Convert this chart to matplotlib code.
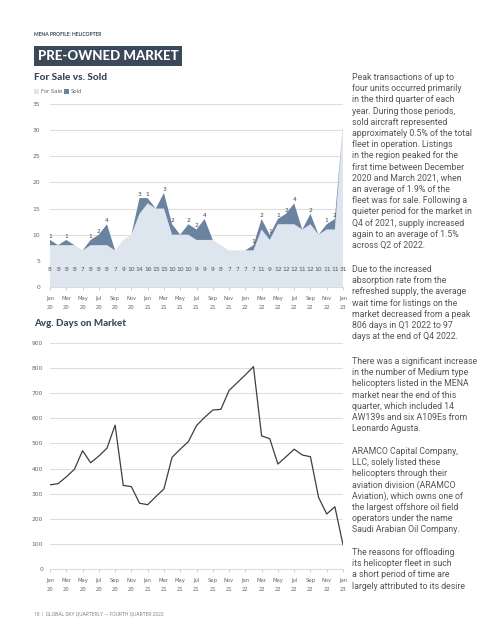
import numpy as np
import matplotlib.pyplot as plt
from matplotlib.patches import Rectangle

# monthly data, Jan 2020 .. Jan 2023
months = np.arange(37)
for_sale = [8, 8, 8, 8, 7, 8, 8, 8, 7, 9, 10, 14, 16, 15, 15, 10, 10, 10, 9, 9,
            9, 8, 7, 7, 7, 7, 11, 9, 12, 12, 12, 11, 12, 10, 11, 11, 31]
sold = [1, 0, 1, 0, 0, 1, 2, 4, 0, 0, 0, 3, 1, 0, 3, 2, 0, 2, 2, 4,
        0, 0, 0, 0, 0, 1, 2, 1, 1, 2, 4, 0, 2, 0, 1, 2, 0]
avg_days = [335, 340, 367, 397, 471, 423, 450, 481, 573, 333, 328, 262, 256, 288,
            319, 445, 477, 507, 571, 604, 633, 636, 711, 742, 773, 806, 530, 519,
            418, 447, 477, 454, 447, 285, 219, 248, 97]
tick_labels = ['Jan\n20', 'Mar\n20', 'May\n20', 'Jul\n20', 'Sep\n20', 'Nov\n20',
               'Jan\n21', 'Mar\n21', 'May\n21', 'Jul\n21', 'Sep\n21', 'Nov\n21',
               'Jan\n22', 'Mar\n22', 'May\n22', 'Jul\n22', 'Sep\n22', 'Nov\n22',
               'Jan\n23']

paragraphs = [
    ["Peak transactions of up to", "four units occurred primarily",
     "in the third quarter of each", "year. During those periods,",
     "sold aircraft represented", "approximately 0.5% of the total",
     "fleet in operation. Listings", "in the region peaked for the",
     "first time between December", "2020 and March 2021, when",
     "an average of 1.9% of the", "fleet was for sale. Following a",
     "quieter period for the market in", "Q4 of 2021, supply increased",
     "again to an average of 1.5%", "across Q2 of 2022."],
    ["Due to the increased", "absorption rate from the",
     "refreshed supply, the average", "wait time for listings on the",
     "market decreased from a peak", "806 days in Q1 2022 to 97",
     "days at the end of Q4 2022."],
    ["There was a significant increase", "in the number of Medium type",
     "helicopters listed in the MENA", "market near the end of this",
     "quarter, which included 14", "AW139s and six A109Es from",
     "Leonardo Agusta."],
    ["ARAMCO Capital Company,", "LLC, solely listed these",
     "helicopters through their", "aviation division (ARAMCO",
     "Aviation), which owns one of", "the largest offshore oil field",
     "operators under the name", "Saudi Arabian Oil Company."],
    ["The reasons for offloading", "its helicopter fleet in such",
     "a short period of time are", "largely attributed to its desire"],
]
para_y = [77, 269, 361, 451, 552]
line_step = 11.2

W, H = 480, 640
light = '#dde5ee'
dark_blue = '#6a83a0'
navy = '#3b4859'
grey_txt = '#666666'
grid_c = '#dedede'


def fx(x):
    return x / W


def fy(y):
    return 1 - y / H


fig = plt.figure(figsize=(4.8, 6.4), dpi=100)
fig.patch.set_facecolor('white')

# header
fig.text(fx(34), fy(35), 'MENA PROFILE: HELICOPTER', fontsize=3.6, fontweight='bold',
         color=navy, va='center', family='Lato')
fig.add_artist(Rectangle((fx(34), fy(66)), fx(148), 20 / H, transform=fig.transFigure,
                         facecolor=navy, edgecolor='none'))
fig.text(fx(38), fy(56), 'PRE-OWNED MARKET', fontsize=9.5, fontweight='black',
         color='white', va='center', family='Lato')
fig.text(fx(34), fy(78), 'For Sale vs. Sold', fontsize=7.3, fontweight='black',
         color=navy, va='center', family='Lato')
fig.add_artist(Rectangle((fx(34), fy(94)), 5 / W, 5 / H, transform=fig.transFigure,
                         facecolor=light, edgecolor='none'))
fig.text(fx(41), fy(91.5), 'For Sale', fontsize=3.8, color=grey_txt, va='center')
fig.add_artist(Rectangle((fx(64), fy(94)), 5 / W, 5 / H, transform=fig.transFigure,
                         facecolor=dark_blue, edgecolor='none'))
fig.text(fx(71), fy(91.5), 'Sold', fontsize=3.8, color=grey_txt, va='center')
fig.text(fx(34), fy(323), 'Avg. Days on Market', fontsize=7.0, fontweight='black',
         color=navy, va='center', family='Lato')

# top chart: stacked area
ax1 = fig.add_axes([fx(50), fy(287), 293 / W, 183 / H])
ax1.stackplot(months, for_sale, sold, colors=[light, dark_blue], linewidth=0, zorder=2)
for i in months:
    ax1.text(i, 3.3, str(for_sale[i]), ha='center', va='center', fontsize=4.3,
             color='#555555', zorder=3)
    if sold[i] > 0:
        ax1.annotate(str(sold[i]), (i, for_sale[i] + sold[i]), xytext=(0, 0.8),
                     textcoords='offset points', ha='center', va='bottom',
                     fontsize=4.3, color='#444444', zorder=3)
ax1.set_ylim(0, 35)
ax1.set_yticks(range(0, 36, 5))
ax1.tick_params(axis='y', length=0, pad=7, labelsize=4.3, labelcolor=grey_txt)

# bottom chart: line
ax2 = fig.add_axes([fx(50), fy(569), 293 / W, 226 / H])
ax2.plot(months, avg_days, color='#3a3f47', linewidth=0.9, zorder=3)
ax2.set_ylim(0, 900)
ax2.set_yticks(range(0, 901, 100))
ax2.tick_params(axis='y', length=0, pad=5, labelsize=4.3, labelcolor=grey_txt)

for ax in (ax1, ax2):
    ax.set_xlim(0, 36)
    ax.set_xticks(months[::2])
    ax.set_xticklabels(tick_labels)
    ax.tick_params(axis='x', length=2.5, width=0.5, color='#bbbbbb', pad=4,
                   labelsize=3.8, labelcolor=grey_txt)
    ax.grid(axis='y', color=grid_c, linewidth=0.8, zorder=0)
    ax.set_axisbelow(True)
    for s in ('top', 'right', 'left'):
        ax.spines[s].set_visible(False)
    ax.spines['bottom'].set_color('#cccccc')
    ax.spines['bottom'].set_linewidth(0.5)
    ax.set_facecolor('none')
    for lbl in ax.get_xticklabels():
        lbl.set_linespacing(1.9)

# right column text, one line at a time
for lines, y0 in zip(paragraphs, para_y):
    for k, line in enumerate(lines):
        fig.text(fx(352), fy(y0 + k * line_step + 3), line, fontsize=6.3,
                 color='#555555', va='baseline', ha='left', family='Roboto')

fig.text(fx(34), fy(614), '18  |  GLOBAL SKY QUARTERLY \u2014 FOURTH QUARTER 2022',
         fontsize=3.6, color='#888888', va='center', family='Roboto')

fig.savefig('out.png', dpi=100)
